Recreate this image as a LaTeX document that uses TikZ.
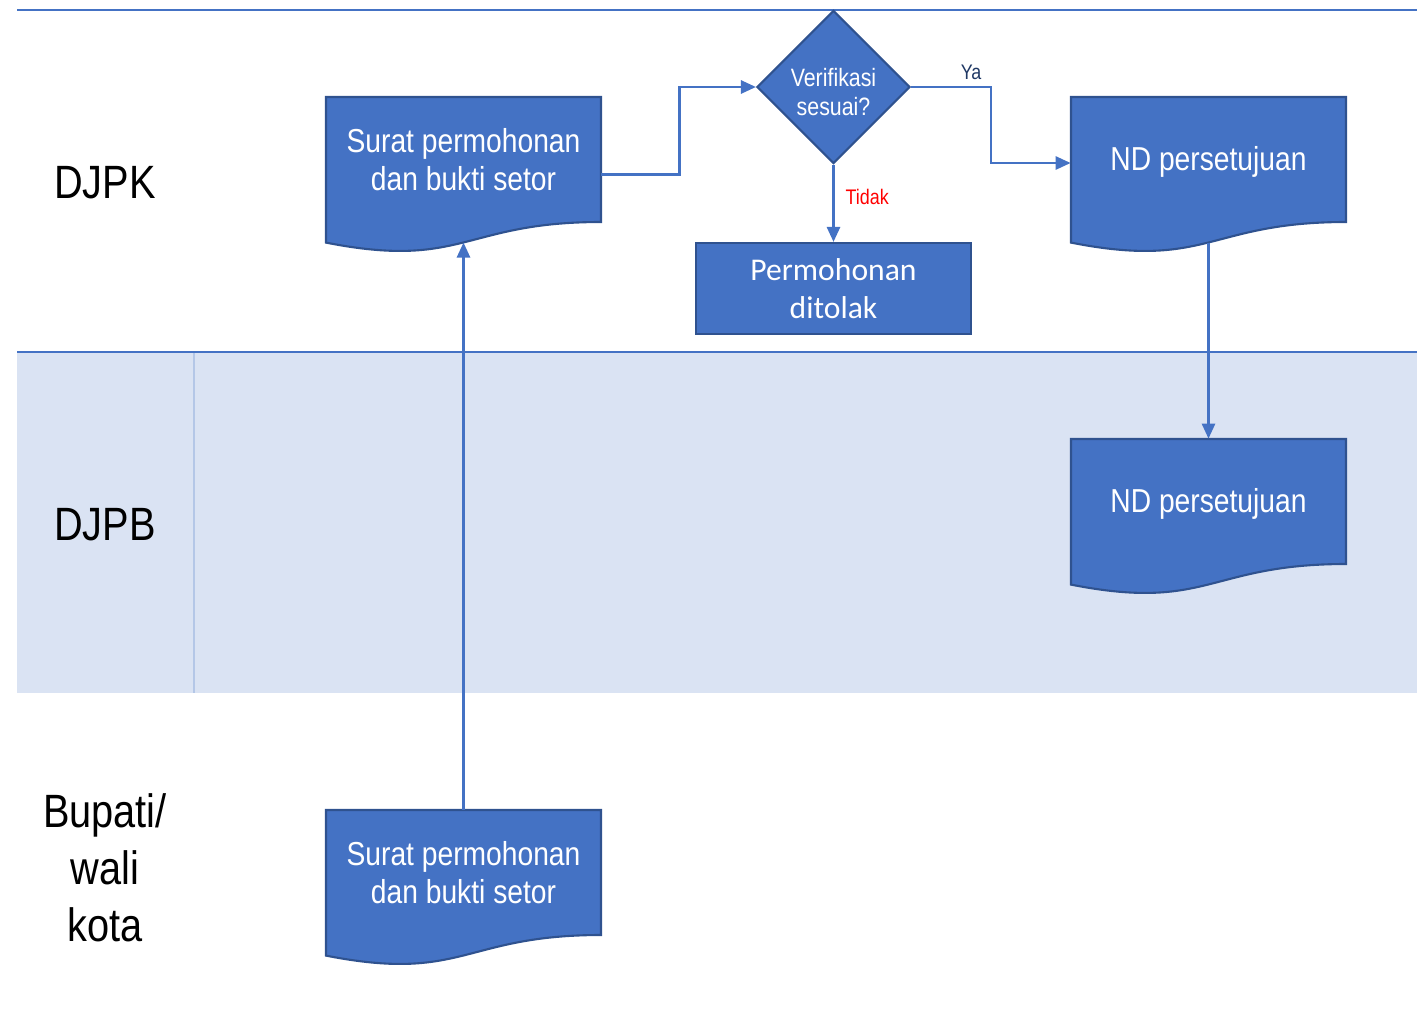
\documentclass[tikz,border=0pt]{standalone}
\usepackage{fontspec}
\setmainfont{Liberation Sans}[FakeStretch=0.85]
\newfontfamily\rejfont{Carlito}
\usetikzlibrary{positioning}
\usetikzlibrary{shapes.geometric, arrows.meta}

\definecolor{flowblue}{HTML}{4472C4}
\definecolor{flowedge}{HTML}{2F528F}
\definecolor{laneband}{HTML}{DAE3F3}
\definecolor{lanesep}{HTML}{B4C7E7}
\definecolor{yanavy}{HTML}{1F3864}

\tikzset{
    laneline/.style={draw=flowblue, line width=1.6pt},
    lanelabel/.style={align=center, font=\fontsize{26.6}{32.6}\selectfont},
    docbox/.style={align=center, text=white, inner sep=0pt,
        minimum width=5.5cm, minimum height=2.5cm,
        font=\fontsize{18.9}{22}\selectfont,
        execute at begin node={\rule{0pt}{17pt}}},
    docshape/.style={fill=flowblue, draw=flowedge, line width=1.2pt},
    flow/.style={draw=flowblue, line width=1.5pt,
        -{Triangle[length=0.3cm, width=0.26cm]}}
}

% document shape: name, centre x, centre y, text
\newcommand{\docnode}[4]{%
    \filldraw[docshape] ({#2-137.5},{#3-62.5}) -- ({#2+137.5},{#3-62.5})
        -- ({#2+137.5},{#3+62.5})
        .. controls (#2,{#3+62.5}) and (#2,{#3+110.2}) .. ({#2-137.5},{#3+83.1})
        -- cycle;
    \node[docbox] (#1) at (#2,#3) {#4};
    \coordinate (#1-wave) at (#2,{#3+83});
}

\begin{document}
\begin{tikzpicture}[x=0.02cm, y=-0.02cm]
    \useasboundingbox (0,0) rectangle (1417,1032);

    % lanes
    \fill[laneband] (17,352) rectangle (1417,693);
    \draw[lanesep, line width=0.6pt] (194,352) -- (194,693);
    \draw[laneline] (17,10) -- (1417,10);
    \draw[laneline] (17,352) -- (1417,352);

    \node[lanelabel] (djpk) at (105,183) {DJPK};
    \node[lanelabel] (djpb) at (105,525) {DJPB};
    \node[lanelabel] (bupati) at (105,868) {Bupati/\\wali\\kota};

    % steps
    \docnode{surat}{463.5}{159.5}{Surat permohonan\\dan bukti setor}
    \docnode{suratbup}{463.5}{872.5}{Surat permohonan\\dan bukti setor}
    \docnode{ndk}{1208.5}{159.5}{ND persetujuan}
    \docnode{ndb}{1208.5}{501.5}{ND persetujuan}

    \node
    [
        diamond,
        aspect=1,
        align=center,
        inner sep=0pt,
        minimum width=3.06cm,
        minimum height=3.06cm,
        fill=flowblue,
        draw=flowedge,
        line width=1.2pt,
        text=white,
        font=\fontsize{14.3}{16.4}\selectfont
    ] (verif) at (833.5,87) {\rule{0pt}{16pt}Verifikasi\\sesuai?};

    \node
    [
        align=center,
        rectangle,
        inner sep=0pt,
        minimum width=5.5cm,
        minimum height=1.82cm,
        fill=flowblue,
        draw=flowedge,
        line width=1.2pt,
        text=white,
        font=\rejfont\fontsize{18}{21.5}\selectfont
    ] (tolak) at (833.5,288.5) {Permohonan\\ditolak};

    % connectors
    \draw[flow] ([yshift=-0.3cm]surat.east) -- ++(78,0) |- (verif.west);
    \draw[flow] (verif.east) -- ++(80,0)
        node [pos=0.75, above, text=yanavy, font=\fontsize{12}{14}\selectfont]{Ya}
        |- ([yshift=-0.07cm]ndk.west);
    \draw[flow] (verif.south) -- (tolak.north)
        node [pos=0.42, right, xshift=0.1cm, text=red, font=\fontsize{12}{14}\selectfont]{Tidak};
    \draw[flow] (suratbup.north) -- (surat-wave);
    \draw[flow] (ndk-wave) -- (ndb.north);
\end{tikzpicture}
\end{document}
